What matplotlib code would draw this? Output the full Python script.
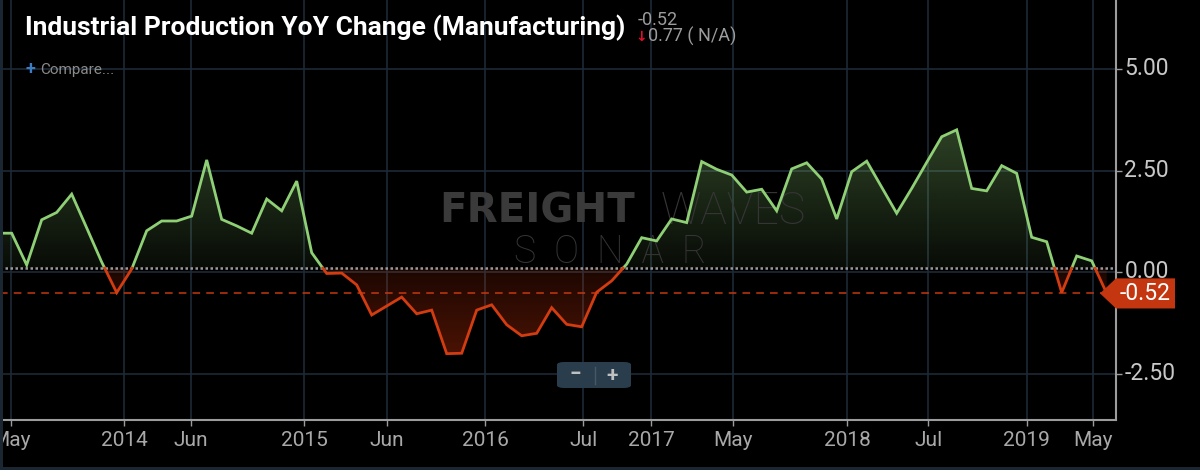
import numpy as np
import matplotlib
matplotlib.use('Agg')
import matplotlib.pyplot as plt
from matplotlib import transforms
from matplotlib.path import Path
from matplotlib.patches import FancyBboxPatch, Polygon, Rectangle
from matplotlib.lines import Line2D

# monthly YoY % change, evenly spaced (ordinal axis like the source chart)
values = [0.96, 0.96, 0.18, 1.29, 1.47, 1.92, 1.09, 0.25, -0.50, 0.08,
          1.02, 1.26, 1.26, 1.38, 2.76, 1.30, 1.14, 0.96, 1.80, 1.51,
          2.24, 0.48, -0.03, -0.02, -0.31, -1.05, -0.83, -0.61, -1.02, -0.93,
          -2.00, -1.99, -0.93, -0.80, -1.29, -1.56, -1.50, -0.87, -1.28, -1.34,
          -0.49, -0.21, 0.20, 0.85, 0.77, 1.31, 1.22, 2.72, 2.53, 2.39,
          1.97, 2.04, 1.51, 2.54, 2.69, 2.29, 1.31, 2.47, 2.73, 2.09,
          1.45, 2.06, 2.70, 3.33, 3.50, 2.06, 2.00, 2.62, 2.43, 0.86,
          0.75, -0.50, 0.40, 0.28, -0.52]
tick_labels = ['May', '2014', 'Jun', '2015', 'Jun', '2016', 'Jul', '2017',
               'May', '2018', 'Jul', '2019', 'May']
tick_pos = [-0.05, 7.49, 11.93, 19.5, 25.0, 31.55, 38.1, 42.62, 48.07,
            55.68, 61.1, 67.68, 72.1]
y_ticks = [-2.5, 0.0, 2.5, 5.0]
title = 'Industrial Production YoY Change (Manufacturing)'
last_value = -0.52
prev_change = '0.77 ( N/A)'
base = 0.1  # the dotted line where the colour flips

plt.rcParams['font.family'] = ['Roboto', 'DejaVu Sans']

GREEN = '#8fcf75'
RED = '#d23c10'
GRID = '#1e2a36'


def split_at(x, y, t):
    xs, ys = [x[0]], [y[0]]
    for i in range(1, len(x)):
        y0, y1 = y[i - 1], y[i]
        if (y0 - t) * (y1 - t) < 0:
            f = (t - y0) / (y1 - y0)
            xs.append(x[i - 1] + f * (x[i] - x[i - 1]))
            ys.append(t)
        xs.append(x[i])
        ys.append(y1)
    return np.array(xs), np.array(ys)


def gradient_fill(ax, xs, ys, mask, rgb, y_far, a_near, a_far, xlim):
    poly = ax.fill_between(xs, ys, base, where=mask, facecolor='none',
                           edgecolor='none')
    path = Path.make_compound_path(*poly.get_paths())
    n = 200
    img = np.zeros((n, 1, 4))
    img[:, 0, :3] = rgb
    img[:, 0, 3] = np.linspace(a_near, a_far, n)
    lo, hi = sorted([base, y_far])
    if y_far < base:
        img = img[::-1]
    im = ax.imshow(img, extent=[xlim[0], xlim[1], lo, hi], origin='lower',
                   aspect='auto', zorder=1, interpolation='bilinear')
    im.set_clip_path(path, transform=ax.transData)


x = np.arange(-1, len(values) - 1)
y = np.array(values)
xs, ys = split_at(x, y, base)

fig = plt.figure(figsize=(12, 4.7), dpi=100, facecolor='black')
ax = fig.add_axes([0, 50 / 470, 1116 / 1200, 420 / 470])
ax.set_facecolor('black')
xlim = (-0.78, 73.62)
ylim = (-3.63, 6.69)

gradient_fill(ax, xs, ys, ys >= base, (0.55, 0.80, 0.45), ys.max(), 0.06, 0.32, xlim)
gradient_fill(ax, xs, ys, ys <= base, (0.88, 0.22, 0.05), ys.min(), 0.13, 0.33, xlim)

up = np.where(ys >= base, ys, np.nan)
down = np.where(ys <= base, ys, np.nan)
ax.plot(xs, up, color=GREEN, lw=2, zorder=4, solid_joinstyle='miter')
ax.plot(xs, down, color=RED, lw=2, zorder=4, solid_joinstyle='miter')

ax.axhline(base, color='#9a9a9a', lw=1.8, ls=(0, (1, 1)), zorder=3)
ax.axhline(last_value, color='#c4380f', lw=1.1, ls=(0, (5, 4)), zorder=3)

ax.set_xlim(*xlim)
ax.set_ylim(*ylim)
ax.set_xticks(tick_pos)
ax.set_xticklabels(tick_labels)
ax.set_yticks(y_ticks)
ax.set_yticklabels(['%.2f' % v for v in y_ticks])
ax.yaxis.tick_right()
ax.grid(True, color=GRID, lw=1.2, zorder=0)
ax.set_axisbelow(True)
for s in ['left', 'top']:
    ax.spines[s].set_visible(False)
for s in ['right', 'bottom']:
    ax.spines[s].set_color('#9c9c9c')
    ax.spines[s].set_linewidth(1.5)
ax.tick_params(axis='x', colors='#9c9c9c', labelcolor='#a8a8a8',
               labelsize=15, length=4, width=1, pad=4)
ax.tick_params(axis='y', colors='#9c9c9c', labelcolor='#c8c8c8',
               labelsize=16.5, length=4, width=1, pad=2)
# labels sit a little above their grid lines
lift = transforms.ScaledTranslation(0, 3 / 100, fig.dpi_scale_trans)
for lab in ax.get_yticklabels():
    lab.set_transform(lab.get_transform() + lift)

# watermark
ax.text(0.394, 0.497, 'FREIGHT', transform=ax.transAxes, color='#3a3a3a',
        fontsize=29, fontweight='bold', family='DejaVu Sans', va='center',
        zorder=2)
ax.text(0.592, 0.497, 'WAVES', transform=ax.transAxes, color='#353535',
        fontsize=32, fontweight='light', va='center', zorder=2)
ax.text(0.461, 0.40, 'S  O  N  A  R', transform=ax.transAxes, color='#353535',
        fontsize=27, fontweight='light', va='center', zorder=2)

# last value tag
tr = transforms.blended_transform_factory(ax.transAxes, ax.transData)
h = 0.37
tip = 1100 / 1116
right = 1175 / 1116
ax.add_patch(Polygon([(tip, last_value), (1.0, last_value + h),
                      (right, last_value + h), (right, last_value - h),
                      (1.0, last_value - h)], closed=True, transform=tr,
                     facecolor='#c4360f', edgecolor='none', clip_on=False,
                     zorder=6))
ax.text((1.0 + right) / 2, last_value, '%.2f' % last_value, transform=tr,
        color='white', fontsize=16.5, ha='center', va='center', zorder=7,
        clip_on=False)

# header
fig.text(25 / 1200, 1 - 35.7 / 470, title, color='white', fontsize=19,
         fontweight='bold', va='baseline')
fig.text(638 / 1200, 1 - 25 / 470, '%.2f' % last_value, color='#9c9c9c',
         fontsize=13, va='baseline')
fig.text(648 / 1200, 1 - 42 / 470, prev_change, color='#9c9c9c',
         fontsize=13, va='baseline')
fig.text(641 / 1200, 1 - 41 / 470, '\u2193', color='#e0102a', fontsize=10,
         fontweight='bold', family='DejaVu Sans', ha='center', va='baseline')
fig.text(30 / 1200, 1 - 69 / 470, '+', color='#3b7dc4', fontsize=13,
         fontweight='bold', ha='center', va='center')
fig.text(40 / 1200, 1 - 70 / 470, 'Compare...', color='#8a8a8a',
         fontsize=11, va='center')

# zoom buttons
fig.patches.append(FancyBboxPatch((557 / 1200, 1 - 388 / 470), 74 / 1200,
                                  26 / 470, boxstyle='round,pad=0,rounding_size=0.006',
                                  transform=fig.transFigure, facecolor='#2a3d4c',
                                  edgecolor='none', zorder=8))
fig.text(575 / 1200, 1 - 375 / 470, '\u2212', color='#c0c0c0', fontsize=15,
         fontweight='bold', ha='center', va='center', zorder=9)
fig.text(612 / 1200, 1 - 375 / 470, '+', color='#c0c0c0', fontsize=15,
         fontweight='bold', ha='center', va='center', zorder=9)
fig.lines.append(Line2D([595 / 1200, 595 / 1200], [1 - 367 / 470, 1 - 384 / 470],
                        transform=fig.transFigure, color='#44586a', lw=1, zorder=9))

# frame strips
fig.patches.append(Rectangle((0, 0), 3 / 1200, 1, transform=fig.transFigure,
                             facecolor='#1a2631', edgecolor='none', zorder=10))
fig.patches.append(Rectangle((0, 0), 1, 3 / 470, transform=fig.transFigure,
                             facecolor='#1a2631', edgecolor='none', zorder=10))

fig.savefig('out.png', dpi=100, facecolor='black')
